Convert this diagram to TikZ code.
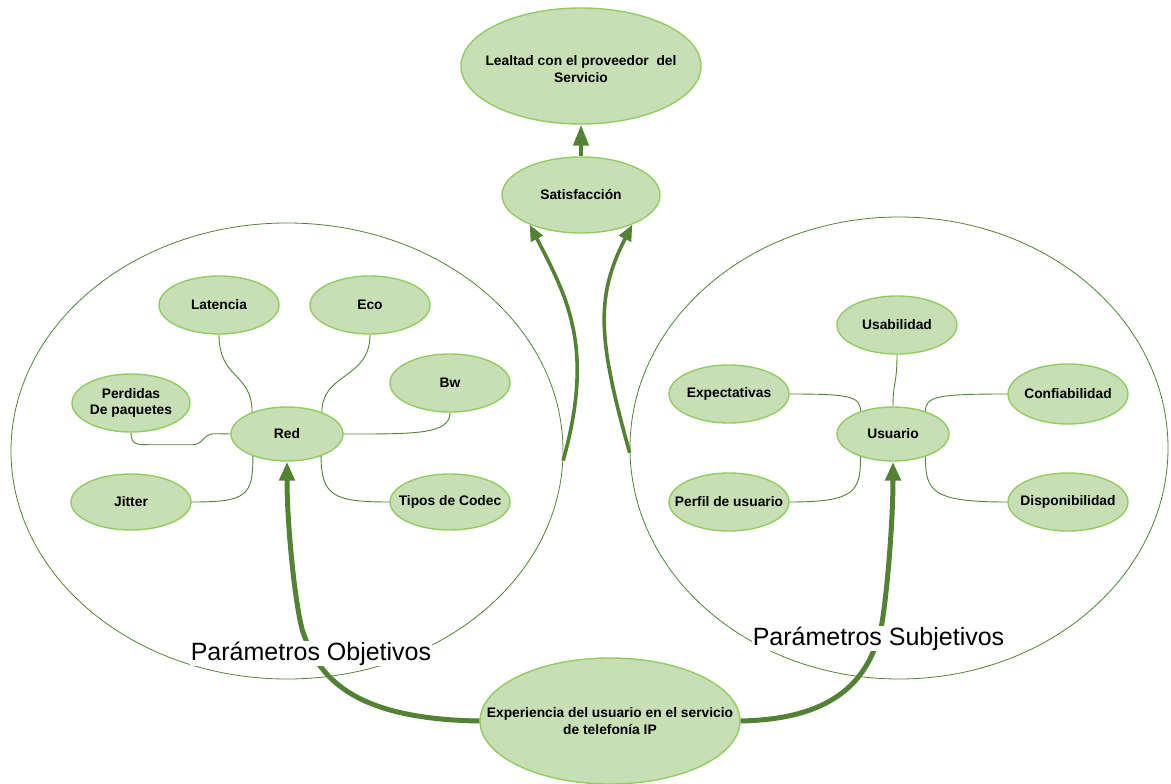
\documentclass[tikz,border=0pt]{standalone}
\usepackage{fontspec}
\setmainfont{Liberation Sans}
\usetikzlibrary{shapes.geometric,arrows.meta}
\definecolor{bubfill}{RGB}{200,223,182}
\definecolor{bubedge}{RGB}{146,204,96}
\definecolor{linkgreen}{RGB}{84,130,53}
\begin{document}
\begin{tikzpicture}[x=1pt,y=-1pt,
  bubtext/.style={font=\bfseries\fontsize{13.8}{16.5}\selectfont, align=center, text=black, inner sep=0pt},
  bub/.style n args={3}{ellipse, draw=bubedge, fill=bubfill, line width=1.4pt,
    inner sep=0pt, minimum width=#1pt, minimum height=#2pt, label={[bubtext]center:#3}},
  zone/.style={ellipse, draw=linkgreen, line width=0.8pt, inner sep=0pt},
  twig/.style={draw=linkgreen, line width=0.9pt},
  flow/.style={draw=linkgreen, line width=5pt, -{Triangle[length=19pt,width=15pt]}},
  sflow/.style={draw=linkgreen, line width=3.6pt, -{Triangle[length=16pt,width=13pt]}},
  param/.style={font=\fontsize{25}{30}\selectfont, fill=white, inner xsep=1pt, inner ysep=1pt}]
\useasboundingbox (0,0) rectangle (1171,784);

% the two parameter zones
\node[zone, minimum width=552pt, minimum height=456pt] (lzone) at (287,451) {};
\node[zone, minimum width=538pt, minimum height=462pt] (rzone) at (899,448) {};

% top chain (the strut sets the two lines slightly below the centre)
\node[bub={240}{116}{\rule{0pt}{16pt}Lealtad con el proveedor~ del\\Servicio}] (lealtad) at (581,66) {};
\node[bub={158}{76}{Satisfacción}] (satis) at (581,195) {};
\node[bub={260}{126}{Experiencia del usuario en el servicio\\de telefonía IP}] (exper) at (610,721) {};

% objective parameters
\node[bub={112}{54}{Red}] (red) at (287,434) {};
\node[bub={120}{58}{Latencia}] (latencia) at (219,305) {};
\node[bub={120}{58}{Eco}] (eco) at (370,305) {};
\node[bub={120}{58}{Bw}] (bw) at (450,383) {};
\node[bub={118}{58}{Perdidas\\De paquetes}] (perdidas) at (131,403) {};
\node[bub={120}{56}{Jitter}] (jitter) at (131,502) {};
\node[bub={120}{56}{Tipos de Codec}] (tipos) at (450,502) {};

% subjective parameters
\node[bub={112}{54}{Usuario}] (usuario) at (893,434) {};
\node[bub={120}{58}{Usabilidad}] (usab) at (897,325) {};
\node[bub={120}{58}{Expectativas}] (expect) at (729,394) {};
\node[bub={120}{60}{Confiabilidad}] (confi) at (1068,394) {};
\node[bub={120}{58}{Perfil de usuario}] (perfil) at (729,502) {};
\node[bub={120}{58}{Disponibilidad}] (dispo) at (1068,502) {};

% links around Red
\draw[twig] (latencia.south) .. controls +(0,45) and +(0,-40) .. (red.148);
\draw[twig] (eco.south) .. controls +(0,45) and +(0,-40) .. (red.32);
\draw[twig] (bw.south) .. controls +(0,22) and +(70,0) .. (red.east);
\draw[twig] (perdidas.south) .. controls +(0,12) and +(-12,0) .. ++(18,12) -- ++(44,0)
  .. controls +(10,0) and +(-12,0) .. ++(22,-11) -- (red.west);
\draw[twig] (jitter.east) .. controls +(55,0) and +(0,40) .. (red.213);
\draw[twig] (red.327) .. controls +(0,40) and +(-55,0) .. (tipos.west);

% links around Usuario
\draw[twig] (usab.south) .. controls +(0,30) and +(0,-25) .. (usuario.north);
\draw[twig] (expect.east) .. controls +(60,0) and +(0,-15) .. (usuario.145);
\draw[twig] (confi.west) .. controls +(-70,0) and +(0,-15) .. (usuario.35);
\draw[twig] (perfil.east) .. controls +(65,0) and +(0,35) .. (usuario.215);
\draw[twig] (dispo.west) .. controls +(-75,0) and +(0,35) .. (usuario.325);

% main flows
\draw[flow] (exper.west) .. controls +(-130,-2) and +(15,45) .. ++(-177,-91)
  .. controls +(-8,-30) and +(0,60) .. (red.south);
\draw[flow] (exper.east) .. controls +(100,-2) and +(-12,45) .. ++(140,-91)
  .. controls +(6,-30) and +(0,60) .. (usuario.south);
\draw[sflow] (lzone.-2) .. controls +(32,-114) and +(37,72) .. (satis.210);
\draw[sflow] (rzone.181) .. controls +(-32,-114) and +(-37,72) .. (satis.-30);
\draw[draw=linkgreen, line width=4.5pt, -{Triangle[length=21pt,width=15pt]}] (satis.north) -- (lealtad.south);

% zone captions
\node[param, anchor=base] (objlbl) at (311,660) {Parámetros Objetivos};
\node[param, anchor=base] (subjlbl) at (878.5,645) {Parámetros Subjetivos};
\end{tikzpicture}
\end{document}
